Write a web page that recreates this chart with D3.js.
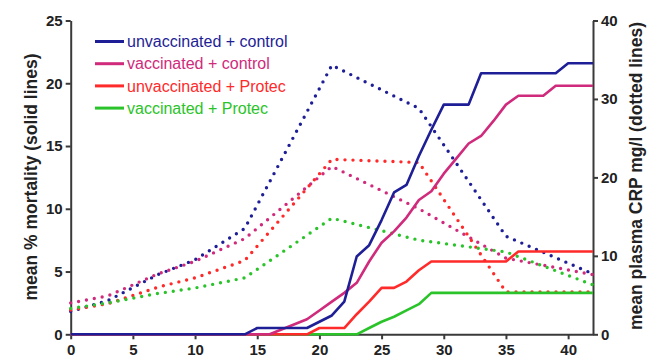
<!DOCTYPE html>
<html><head><meta charset="utf-8">
<script src="https://cdn.jsdelivr.net/npm/d3@7"></script>
<style>
body{margin:0;background:#fff;}
svg{display:block;font-family:"Liberation Sans",Arial,Helvetica,sans-serif;}
</style></head>
<body><svg id="chart" width="651" height="360"></svg>
<script>
// ---- data ----
const seriesNames = ["unvaccinated + control","vaccinated + control","unvaccinated + Protec","vaccinated + Protec"];
const seriesColors = ["#1e1e96","#d02a7c","#ff2a2a","#2ac42a"];
const xTicks = [0,5,10,15,20,25,30,35,40];
const leftTicks = [0,5,10,15,20,25];
const rightTicks = [0,10,20,30,40];

// mortality (solid lines), one value per day 0..42
const mortDays = [0,1,2,3,4,5,6,7,8,9,10,11,12,13,14,15,16,17,18,19,20,21,22,23,24,25,26,27,28,29,30,31,32,33,34,35,36,37,38,39,40,41,42];
const mortUnvacControl = [0,0,0,0,0,0,0,0,0,0,0,0,0,0,0,0.5,0.5,0.5,0.5,0.5,1.0,1.5,2.6,6.2,7.1,9.1,11.3,11.9,14.2,16.3,18.3,18.3,18.3,20.8,20.8,20.8,20.8,20.8,20.8,20.8,21.6,21.6,21.6];
const mortVacControl   = [0,0,0,0,0,0,0,0,0,0,0,0,0,0,0,0,0,0.4,0.8,1.2,1.9,2.6,3.3,4.1,5.8,7.3,8.2,9.3,10.7,11.4,12.8,14.0,15.2,15.8,17.0,18.3,19.0,19.0,19.0,19.8,19.8,19.8,19.8];
const mortUnvacProtec  = [0,0,0,0,0,0,0,0,0,0,0,0,0,0,0,0,0,0,0,0,0.5,0.5,0.5,1.6,2.6,3.7,3.7,4.2,5.1,5.8,5.8,5.8,5.8,5.8,5.8,5.8,6.6,6.6,6.6,6.6,6.6,6.6,6.6];
const mortVacProtec    = [0,0,0,0,0,0,0,0,0,0,0,0,0,0,0,0,0,0,0,0,0,0,0,0,0.5,1.0,1.4,1.9,2.4,3.3,3.3,3.3,3.3,3.3,3.3,3.3,3.3,3.3,3.3,3.3,3.3,3.3,3.3];

// CRP (dotted lines)
const crpDays = [0,3,7,10,14,21,28,35,42];
const crpUnvacControl = [2.9,4.3,7.6,9.5,13.5,34.3,28.8,12.5,7.7];
const crpVacControl   = [4.0,4.9,7.7,9.3,12.2,21.4,16.0,9.7,7.6];
const crpUnvacProtec  = [3.1,3.9,6.0,7.2,9.4,22.3,21.9,5.4,5.4];
const crpVacProtec    = [3.3,4.0,5.2,5.9,7.2,14.8,12.0,10.5,6.3];

const mortSeries = [mortUnvacControl,mortVacControl,mortUnvacProtec,mortVacProtec];
const crpSeries = [crpUnvacControl,crpVacControl,crpUnvacProtec,crpVacProtec];

// ---- layout ----
const svg = d3.select("#chart");
const x = d3.scaleLinear().domain([0,42]).range([70.7,593]);
const yL = d3.scaleLinear().domain([0,25]).range([334.3,20.5]);
const yR = d3.scaleLinear().domain([0,40]).range([334.3,20.5]);
const axisColor = "#3a3a3a";

function styleAxis(g){
  g.selectAll("path.domain").attr("stroke",axisColor).attr("stroke-width",2);
  g.selectAll(".tick line").attr("stroke",axisColor).attr("stroke-width",2);
  g.selectAll(".tick text").attr("fill","#222").style("font-weight","bold").style("font-size","15px")
    .style("font-family","'Liberation Sans',Arial,sans-serif");
}
const gx = svg.append("g").attr("transform",`translate(0,${yL(0)})`)
  .call(d3.axisBottom(x).tickValues(xTicks).tickSize(5).tickSizeOuter(0).tickPadding(5));
styleAxis(gx);
const gl = svg.append("g").attr("transform",`translate(${x(0)},0)`)
  .call(d3.axisLeft(yL).tickValues(leftTicks).tickSize(5).tickSizeOuter(0).tickPadding(3));
styleAxis(gl);
const gr = svg.append("g").attr("transform",`translate(${x(42)},0)`)
  .call(d3.axisRight(yR).tickValues(rightTicks).tickSize(5).tickSizeOuter(0).tickPadding(3));
styleAxis(gr);

// dotted CRP lines
const lineR = d3.line().x(d=>x(d[0])).y(d=>yR(d[1]));
crpSeries.forEach((s,i)=>{
  svg.append("path").datum(crpDays.map((d,j)=>[d,s[j]]))
    .attr("d",lineR).attr("fill","none").attr("stroke",seriesColors[i])
    .attr("stroke-width",3.4).attr("stroke-linecap","round").attr("stroke-dasharray","0 8");
});
// solid mortality lines
const lineL = d3.line().x(d=>x(d[0])).y(d=>yL(d[1]));
[3,2,1,0].forEach(i=>{
  const s = mortSeries[i];
  svg.append("path").datum(mortDays.map((d,j)=>[d,s[j]]))
    .attr("d",lineL).attr("fill","none").attr("stroke",seriesColors[i])
    .attr("stroke-width",2.6).attr("stroke-linejoin","round");
});

// legend
const leg = svg.append("g");
seriesNames.forEach((n,i)=>{
  const yy = 41.5 + i*22.2;
  leg.append("line").attr("x1",95).attr("x2",124).attr("y1",yy).attr("y2",yy)
    .attr("stroke",seriesColors[i]).attr("stroke-width",3);
  leg.append("text").attr("x",127).attr("y",yy).attr("dy","0.35em")
    .attr("fill",seriesColors[i]).style("font-size","16px").text(n);
});

// axis titles
svg.append("text").attr("transform","translate(31,177) rotate(-90)")
  .attr("text-anchor","middle").attr("dy","0.35em")
  .style("font-weight","bold").style("font-size","17.5px").attr("fill","#222")
  .text("mean % mortality (solid lines)");
svg.append("text").attr("transform","translate(636,176) rotate(-90)")
  .attr("text-anchor","middle").attr("dy","0.35em")
  .style("font-weight","bold").style("font-size","17.5px").attr("fill","#222")
  .text("mean plasma CRP mg/l (dotted lines)");
</script></body></html>
